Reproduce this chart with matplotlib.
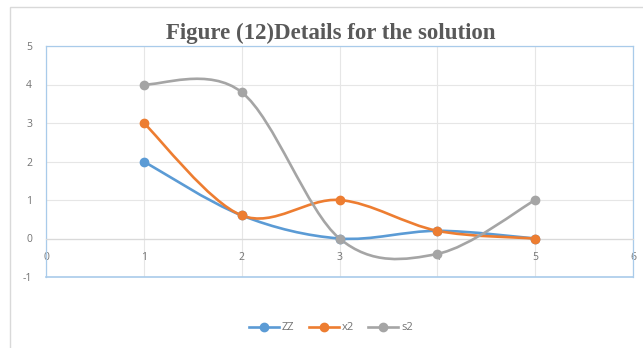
import matplotlib
matplotlib.use("Agg")
import matplotlib.pyplot as plt
from matplotlib.path import Path
from matplotlib.patches import PathPatch, Rectangle
from matplotlib.lines import Line2D
import numpy as np

plt.rcParams["axes.unicode_minus"] = False

x_vals = [1, 2, 3, 4, 5]
zz = [2, 0.6, 0, 0.2, 0]
x2 = [3, 0.6, 1, 0.2, 0]
s2 = [4, 3.8, 0, -0.4, 1]
series_names = ["ZZ", "x2", "s2"]
colors = ["#5B9BD5", "#ED7D31", "#A5A5A5"]
x_ticks = [0, 1, 2, 3, 4, 5, 6]
y_ticks = [-1, 0, 1, 2, 3, 4, 5]
title = "Figure (12)Details for the solution"

W, H = 643, 348
fig = plt.figure(figsize=(W / 100, H / 100), dpi=100)
fig.patch.set_facecolor("white")

# outer chart border
fig.patches.append(Rectangle((10 / W, -0.05), 1.0, 1 - 7 / H + 0.05, transform=fig.transFigure,
                             fill=False, edgecolor="#D9D9D9", linewidth=1.0))

ax = fig.add_axes([46 / W, 1 - 277 / H, (633 - 46) / W, (277 - 46) / H])
ax.set_xlim(0, 6)
ax.set_ylim(-1, 5)
ax.set_xticks(x_ticks)
ax.set_yticks(y_ticks)
ax.grid(True, color="#E6E6E6", linewidth=0.8)
ax.set_axisbelow(True)

border = "#A9CBEA"
for s in ["top", "right", "left"]:
    ax.spines[s].set_color(border)
    ax.spines[s].set_linewidth(0.9)
ax.spines["bottom"].set_position(("data", 0))
ax.spines["bottom"].set_color("#D9D9D9")
ax.spines["bottom"].set_linewidth(0.9)
ax.axhline(-1, color=border, linewidth=1.2, clip_on=False, zorder=1)

ax.tick_params(axis="both", length=0, labelsize=7.5, labelcolor="#737373")
ax.tick_params(axis="x", pad=10)
ax.tick_params(axis="y", pad=10)
for lab in ax.get_xticklabels() + ax.get_yticklabels():
    lab.set_fontfamily("Open Sans")


def smooth_path(xs, ys):
    pts = np.column_stack([xs, ys]).astype(float)
    n = len(pts)
    verts = [pts[0]]
    codes = [Path.MOVETO]
    for i in range(n - 1):
        p0 = pts[i - 1] if i > 0 else pts[i]
        p1 = pts[i]
        p2 = pts[i + 1]
        p3 = pts[i + 2] if i + 2 < n else pts[i + 1]
        c1 = p1 + (p2 - p0) / 6.0
        c2 = p2 - (p3 - p1) / 6.0
        verts += [c1, c2, p2]
        codes += [Path.CURVE4] * 3
    return Path(verts, codes)


handles = []
for name, ys, c in zip(series_names, [zz, x2, s2], colors):
    patch = PathPatch(smooth_path(x_vals, ys), facecolor="none", edgecolor=c,
                      linewidth=1.9, transform=ax.transData, zorder=3, capstyle="round")
    ax.add_patch(patch)
    ax.plot(x_vals, ys, linestyle="none", marker="o", markersize=6, color=c, zorder=4)
    handles.append(Line2D([], [], color=c, linewidth=1.9, marker="o", markersize=6, label=name))

fig.text(331 / W, 1 - 33 / H, title, ha="center", va="center", fontsize=16.5,
         fontweight="bold", family="Liberation Serif", color="#595959")

leg = fig.legend(handles=handles, loc="center", bbox_to_anchor=(331 / W, 1 - 328 / H),
                 ncol=3, frameon=False, handlelength=2.7, handletextpad=0.25,
                 columnspacing=1.3, prop={"family": "Open Sans", "size": 8})
for t in leg.get_texts():
    t.set_color("#737373")

fig.savefig("out.png", dpi=100)
